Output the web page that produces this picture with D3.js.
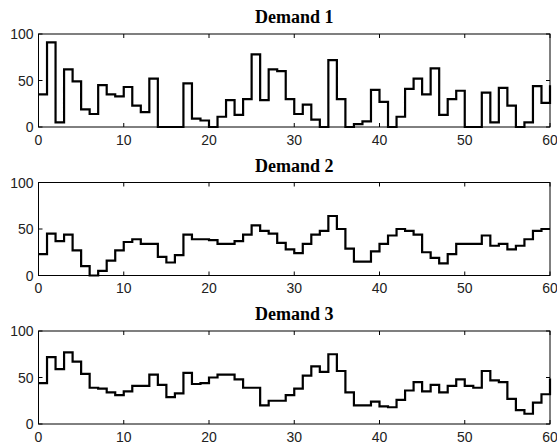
<!DOCTYPE html>
<html>
<head>
<meta charset="utf-8">
<script src="https://cdn.jsdelivr.net/npm/d3@7"></script>
<style>
  body { margin: 0; background: #fff; }
  svg { display: block; }
</style>
</head>
<body>
<script>
// demand values at t = 0..60 (stairs)
const demand1 = [35,91,5,62,49,19,14,45,35,33,
                 43,23,16,52,0,0,0,47,9,7,
                 0,11,29,13,30,78,29,62,60,30,
                 14,24,8,0,72,30,0,3,6,40,
                 27,0,11,41,52,35,63,13,30,39,
                 0,0,37,5,42,23,0,5,44,26,45]
const demand2 = [23,45,37,44,27,10,0,5,16,27,
                 36,39,34,34,20,14,22,44,39,39,
                 38,34,34,37,44,54,48,45,35,28,
                 24,34,44,48,64,50,29,15,15,26,
                 34,43,50,48,44,25,19,13,23,34,
                 34,34,43,32,34,28,32,39,48,50,50]
const demand3 = [44,72,59,77,67,54,39,38,34,31,
                 35,41,41,53,42,29,33,55,43,44,
                 50,53,53,48,39,39,20,25,25,31,
                 38,52,62,56,75,57,34,20,20,24,
                 19,18,26,36,45,35,42,34,41,48,
                 41,39,57,47,45,27,15,11,23,32,49]
const titles = ['Demand 1','Demand 2','Demand 3']
const xTicks = [0,10,20,30,40,50,60]
const yTicks = [0,50,100]

const W = 557, H = 447
const LEFT = 38.5, RIGHT = 550
const panelTops = [34, 182.5, 331]
const PH = 93
const TICK = 4

const svg = d3.select('body').append('svg')
  .attr('width', W).attr('height', H)

const xScale = d3.scaleLinear().domain([0,60]).range([LEFT, RIGHT])

const allData = [demand1, demand2, demand3]

allData.forEach((series, k)=>{
  const top = panelTops[k]
  const yScale = d3.scaleLinear().domain([0,100]).range([top+PH, top])
  const g = svg.append('g')

  // title
  g.append('text')
    .attr('x', (LEFT+RIGHT)/2)
    .attr('y', top-11)
    .attr('text-anchor','middle')
    .style('font-family','"Liberation Serif", "Times New Roman", serif')
    .style('font-weight','bold')
    .style('font-size','18px')
    .text(titles[k])

  // data stairs
  const line = d3.line()
    .x((d,i)=>xScale(i))
    .y(d=>yScale(d))
    .curve(d3.curveStepAfter)

  g.append('path')
    .datum(series)
    .attr('d', line)
    .attr('fill','none')
    .attr('stroke','#000')
    .attr('stroke-width',2.2)
    .attr('stroke-linejoin','miter')

  // box
  g.append('rect')
    .attr('x', LEFT).attr('y', top)
    .attr('width', RIGHT-LEFT).attr('height', PH)
    .attr('fill','none').attr('stroke','#000').attr('stroke-width',1)

  // x ticks (in, top and bottom)
  xTicks.forEach(t=>{
    const x = xScale(t)
    g.append('line').attr('x1',x).attr('x2',x)
      .attr('y1',top+PH).attr('y2',top+PH-TICK)
      .attr('stroke','#000')
    g.append('line').attr('x1',x).attr('x2',x)
      .attr('y1',top).attr('y2',top+TICK)
      .attr('stroke','#000')
    g.append('text')
      .attr('x', x).attr('y', top+PH+17.5)
      .attr('text-anchor','middle')
      .style('font-family','"Liberation Sans", Arial, sans-serif')
      .style('font-size','14px')
      .style('fill','#222')
      .text(t)
  })

  // y ticks (in, left and right)
  yTicks.forEach(t=>{
    const y = yScale(t)
    g.append('line').attr('x1',LEFT).attr('x2',LEFT+TICK)
      .attr('y1',y).attr('y2',y).attr('stroke','#000')
    g.append('line').attr('x1',RIGHT).attr('x2',RIGHT-TICK)
      .attr('y1',y).attr('y2',y).attr('stroke','#000')
    g.append('text')
      .attr('x', LEFT-5).attr('y', y+5)
      .attr('text-anchor','end')
      .style('font-family','"Liberation Sans", Arial, sans-serif')
      .style('font-size','14px')
      .style('fill','#222')
      .text(t)
  })
})
</script>
</body>
</html>
